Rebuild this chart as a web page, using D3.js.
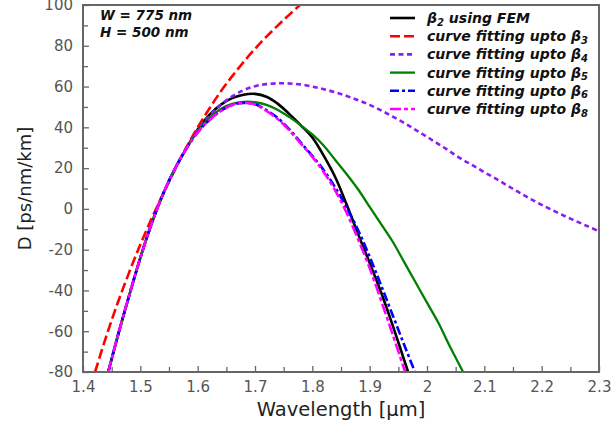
<!DOCTYPE html>
<html>
<head>
<meta charset="utf-8">
<script src="https://cdn.jsdelivr.net/npm/d3@7"></script>
<style>
  html, body { margin: 0; padding: 0; background: #fff; }
  svg { display: block; }
</style>
</head>
<body>
<svg id="chart" width="613" height="427"></svg>
<script>
// ---------------- data ----------------
const xTicks = [1.4, 1.5, 1.6, 1.7, 1.8, 1.9, 2.0, 2.1, 2.2, 2.3];
const yTicks = [-80, -60, -40, -20, 0, 20, 40, 60, 80, 100];

const lamFEM = [1.444, 1.46, 1.48, 1.50, 1.52, 1.54, 1.56, 1.58, 1.60, 1.62, 1.64, 1.66, 1.68, 1.70, 1.72, 1.74, 1.76, 1.78, 1.80, 1.82, 1.84, 1.86, 1.88, 1.90, 1.92, 1.94, 1.967];
const dFEM   = [-80, -63, -43, -24, -7, 7.5, 19.5, 29.5, 39, 46, 51, 54.3, 56, 56.4, 55, 51.5, 46.5, 41, 35, 26, 15.5, 2, -12.5, -26.5, -41, -57, -80];

const lamB3 = [1.421, 1.44, 1.46, 1.48, 1.50, 1.52, 1.54, 1.56, 1.58, 1.60, 1.62, 1.64, 1.66, 1.68, 1.70, 1.72, 1.74, 1.76, 1.78, 1.80];
const dB3   = [-80, -63, -46.5, -31.5, -17.5, -4.5, 7.5, 19, 30, 40, 49, 57.5, 65, 72, 78.5, 84.5, 90, 95.3, 100.3, 105];

const lamB4 = [1.444, 1.46, 1.48, 1.50, 1.52, 1.54, 1.56, 1.58, 1.60, 1.62, 1.64, 1.66, 1.68, 1.70, 1.72, 1.74, 1.76, 1.78, 1.80, 1.82, 1.84, 1.86, 1.88, 1.90, 1.92, 1.94, 1.96, 1.98, 2.00, 2.02, 2.04, 2.06, 2.08, 2.10, 2.12, 2.14, 2.16, 2.18, 2.20, 2.22, 2.24, 2.26, 2.28, 2.30];
const dB4   = [-80, -63, -43, -24, -7, 7.5, 19.5, 29.5, 38.5, 45.5, 51, 55.2, 58.2, 60.2, 61.2, 61.6, 61.5, 61, 60, 58.7, 57.2, 55.4, 53.3, 51, 48.3, 45.3, 42.2, 38.8, 35.3, 31.8, 28.2, 24.5, 21.3, 18, 14.8, 11.5, 8.2, 5, 2, -0.8, -3.5, -6, -8.5, -11];

const lamB5 = [1.444, 1.46, 1.48, 1.50, 1.52, 1.54, 1.56, 1.58, 1.60, 1.62, 1.64, 1.66, 1.68, 1.70, 1.72, 1.74, 1.76, 1.78, 1.80, 1.82, 1.84, 1.86, 1.88, 1.90, 1.92, 1.94, 1.96, 1.98, 2.00, 2.02, 2.04, 2.063];
const dB5   = [-80, -63, -43, -24, -7, 7.5, 19.5, 29.5, 38, 44.5, 49, 51.5, 52.5, 52.3, 51, 48.5, 45, 41, 36.5, 31, 24, 17, 9.5, 1, -7.5, -16, -26, -36, -46, -56, -67.5, -80];

const lamB6 = [1.444, 1.46, 1.48, 1.50, 1.52, 1.54, 1.56, 1.58, 1.60, 1.62, 1.64, 1.66, 1.68, 1.70, 1.72, 1.74, 1.76, 1.78, 1.80, 1.82, 1.84, 1.86, 1.88, 1.90, 1.92, 1.94, 1.96, 1.979];
const dB6   = [-80, -63, -43, -24, -7, 7.5, 19.5, 29.5, 37.5, 43.5, 48, 51, 52, 51.3, 48.5, 44.5, 39, 32.5, 26, 19, 10.5, 0.5, -10.5, -23.5, -37.5, -52, -66.5, -80];

const lamB8 = [1.444, 1.46, 1.48, 1.50, 1.52, 1.54, 1.56, 1.58, 1.60, 1.62, 1.64, 1.66, 1.68, 1.70, 1.72, 1.74, 1.76, 1.78, 1.80, 1.82, 1.84, 1.86, 1.88, 1.90, 1.92, 1.94, 1.962];
const dB8   = [-80, -63, -43, -24, -7, 7.5, 19.5, 29.5, 37.5, 43.5, 48, 51, 52, 51.3, 48, 44, 38.5, 32, 25.5, 18, 9, -2, -15, -29, -45, -61.5, -80];

const annotations = ["W = 775 nm", "H = 500 nm"];

// ---------------- chart ----------------
const svg = d3.select("#chart");
const W = 613, H = 427;
const m = { left: 83, right: 599, top: 5, bottom: 372 };

const x = d3.scaleLinear().domain([1.4, 2.3]).range([m.left, m.right]);
const y = d3.scaleLinear().domain([-80, 100]).range([m.bottom, m.top]);

const FONT = "'DejaVu Sans', 'Open Sans', sans-serif";
const AXIS_COLOR = "#666";
const LABEL_COLOR = "#555";

svg.append("rect").attr("width", W).attr("height", H).attr("fill", "#fff");

svg.append("defs").append("clipPath").attr("id", "plotclip")
  .append("rect")
  .attr("x", m.left).attr("y", m.top)
  .attr("width", m.right - m.left).attr("height", m.bottom - m.top);

// series
const series = [
  { lam: lamFEM, d: dFEM, color: "#000000", width: 2.6, dash: null, label: ["β", "2", " using FEM"] },
  { lam: lamB3, d: dB3, color: "#ff0000", width: 2.6, dash: "10,4", label: ["curve fitting upto β", "3", ""] },
  { lam: lamB4, d: dB4, color: "#8a1cf5", width: 2.6, dash: "5,3.5", label: ["curve fitting upto β", "4", ""] },
  { lam: lamB5, d: dB5, color: "#008000", width: 2.3, dash: null, label: ["curve fitting upto β", "5", ""] },
  { lam: lamB6, d: dB6, color: "#0000ff", width: 2.6, dash: "9,3,3,3", label: ["curve fitting upto β", "6", ""] },
  { lam: lamB8, d: dB8, color: "#ff00ff", width: 2.6, dash: "11,3,4,3", label: ["curve fitting upto β", "8", ""] }
];

const line = d3.line()
  .x(p => x(p[0]))
  .y(p => y(p[1]))
  .curve(d3.curveCatmullRom.alpha(0.5));

const gLines = svg.append("g").attr("clip-path", "url(#plotclip)");
series.forEach(s => {
  const pts = s.lam.map((l, i) => [l, s.d[i]]);
  gLines.append("path")
    .attr("d", line(pts))
    .attr("fill", "none")
    .attr("stroke", s.color)
    .attr("stroke-width", s.width)
    .attr("stroke-dasharray", s.dash)
    .attr("stroke-linejoin", "round");
});

// axes
const fmtX = d => String(+d.toFixed(1));
const fmtY = d => String(d);

const xMinor = d3.range(1.45, 2.3, 0.1).map(v => +v.toFixed(2));
const yMinor = d3.range(-70, 100, 20);

const gx = svg.append("g").attr("transform", `translate(0,${m.bottom})`)
  .call(d3.axisBottom(x).tickValues(xTicks).tickSize(-6).tickPadding(9).tickFormat(fmtX));
const gxm = svg.append("g").attr("transform", `translate(0,${m.bottom})`)
  .call(d3.axisBottom(x).tickValues(xMinor).tickSize(-5).tickFormat(""));
const gy = svg.append("g").attr("transform", `translate(${m.left},0)`)
  .call(d3.axisLeft(y).tickValues(yTicks).tickSize(-6).tickPadding(10).tickFormat(fmtY));
const gym = svg.append("g").attr("transform", `translate(${m.left},0)`)
  .call(d3.axisLeft(y).tickValues(yMinor).tickSize(-5).tickFormat(""));

[gx, gxm, gy, gym].forEach(g => {
  g.select(".domain").remove();
  g.selectAll(".tick line").attr("stroke", AXIS_COLOR).attr("stroke-width", 1.3);
  g.selectAll(".tick text")
    .attr("fill", LABEL_COLOR)
    .attr("font-family", FONT)
    .attr("font-size", 15);
});

// frame
svg.append("rect")
  .attr("x", m.left).attr("y", m.top)
  .attr("width", m.right - m.left).attr("height", m.bottom - m.top)
  .attr("fill", "none").attr("stroke", AXIS_COLOR).attr("stroke-width", 2);

// axis titles
svg.append("text")
  .attr("x", (m.left + m.right) / 2).attr("y", 416)
  .attr("text-anchor", "middle")
  .attr("font-family", FONT).attr("font-size", 19.5).attr("fill", "#222")
  .text("Wavelength [μm]");

svg.append("text")
  .attr("transform", `translate(31,${(m.top + m.bottom) / 2}) rotate(-90)`)
  .attr("text-anchor", "middle")
  .attr("font-family", FONT).attr("font-size", 18).attr("fill", "#222")
  .text("D [ps/nm/km]");

// annotation
annotations.forEach((t, i) => {
  svg.append("text")
    .attr("x", 100).attr("y", 20 + i * 17)
    .attr("font-family", FONT).attr("font-size", 13.5)
    .attr("font-weight", "bold").attr("font-style", "italic")
    .attr("fill", "#111")
    .text(t);
});

// legend
const lg = svg.append("g");
series.forEach((s, i) => {
  const yy = 18 + i * 18.2;
  lg.append("line")
    .attr("x1", 390).attr("x2", 415).attr("y1", yy).attr("y2", yy)
    .attr("stroke", s.color).attr("stroke-width", s.width)
    .attr("stroke-dasharray", s.dash);
  const t = lg.append("text")
    .attr("x", 427).attr("y", yy + 5)
    .attr("font-family", FONT).attr("font-size", 14)
    .attr("font-weight", "bold").attr("font-style", "italic")
    .attr("fill", "#111");
  t.append("tspan").text(s.label[0]);
  t.append("tspan").attr("font-size", 10).attr("dy", 2.5).text(s.label[1]);
  if (s.label[2]) t.append("tspan").attr("dy", -2.5).text(s.label[2]);
});
</script>
</body>
</html>
